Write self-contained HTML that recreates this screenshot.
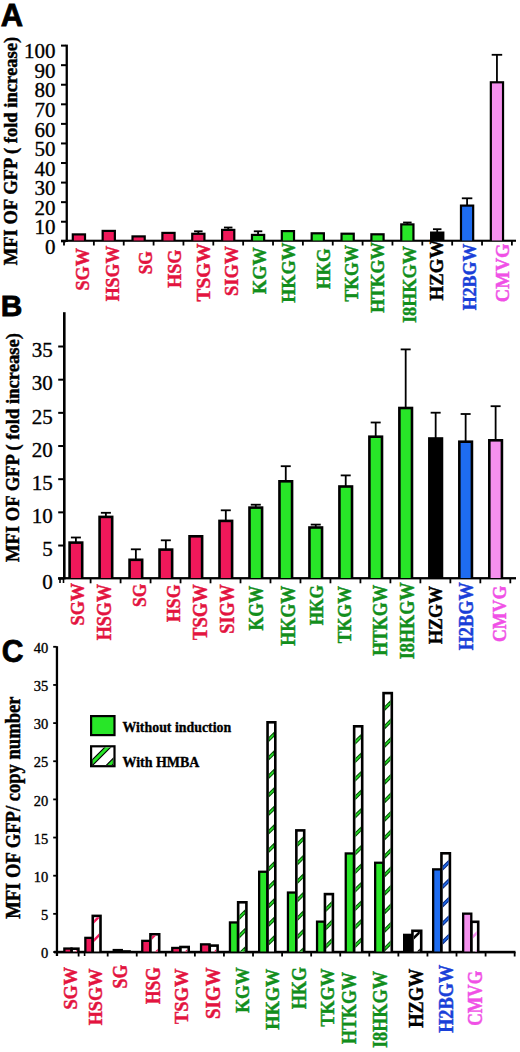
<!DOCTYPE html>
<html><head><meta charset="utf-8"><style>
html,body{margin:0;padding:0;background:#fff;}
svg{display:block;}
</style></head><body>
<svg width="520" height="1052" viewBox="0 0 520 1052">
<rect width="520" height="1052" fill="#fff"/>
<g font-family="Liberation Sans" font-weight="bold" stroke="#000" stroke-width="0.8">
<text transform="translate(0.75 25.75) scale(0.96 1)" font-size="32.2">A</text>
<text transform="translate(0.8 315.85) scale(0.99 1)" font-size="30.2">B</text>
<text transform="translate(1.7 661.6) scale(0.96 1)" font-size="31.3">C</text>
</g>
<g font-family="Liberation Serif">
<text transform="translate(17.31 265.37) rotate(-90) scale(0.9583 1)" font-size="19.40" fill="#000" stroke="#000" stroke-width="0.45" font-weight="bold">MFI OF GFP ( fold increase)</text>
<text transform="translate(18.71 561.97) rotate(-90) scale(0.9519 1)" font-size="19.55" fill="#000" stroke="#000" stroke-width="0.45" font-weight="bold">MFI OF GFP ( fold increase)</text>
<text transform="translate(19.5 918.77) rotate(-90) scale(0.9295 1)" font-size="20.00" fill="#000" stroke="#000" stroke-width="0.45" font-weight="bold">MFI OF GFP/ copy number</text>
<rect x="65.6" y="44.6" width="2.3" height="197.4" fill="#000"/>
<rect x="61" y="240.3" width="5" height="2" fill="#000"/>
<text x="55.44" y="254.05" font-size="21" text-anchor="end" fill="#000" stroke="#000" stroke-width="0.35">0</text>
<rect x="61" y="220.73" width="5" height="2" fill="#000"/>
<text x="55.44" y="234.48" font-size="21" text-anchor="end" fill="#000" stroke="#000" stroke-width="0.35">10</text>
<rect x="61" y="201.16" width="5" height="2" fill="#000"/>
<text x="55.44" y="214.91" font-size="21" text-anchor="end" fill="#000" stroke="#000" stroke-width="0.35">20</text>
<rect x="61" y="181.59" width="5" height="2" fill="#000"/>
<text x="55.44" y="195.34" font-size="21" text-anchor="end" fill="#000" stroke="#000" stroke-width="0.35">30</text>
<rect x="61" y="162.02" width="5" height="2" fill="#000"/>
<text x="55.44" y="175.77" font-size="21" text-anchor="end" fill="#000" stroke="#000" stroke-width="0.35">40</text>
<rect x="61" y="142.45" width="5" height="2" fill="#000"/>
<text x="55.44" y="156.2" font-size="21" text-anchor="end" fill="#000" stroke="#000" stroke-width="0.35">50</text>
<rect x="61" y="122.88" width="5" height="2" fill="#000"/>
<text x="55.44" y="136.63" font-size="21" text-anchor="end" fill="#000" stroke="#000" stroke-width="0.35">60</text>
<rect x="61" y="103.31" width="5" height="2" fill="#000"/>
<text x="55.44" y="117.06" font-size="21" text-anchor="end" fill="#000" stroke="#000" stroke-width="0.35">70</text>
<rect x="61" y="83.74" width="5" height="2" fill="#000"/>
<text x="55.44" y="97.49" font-size="21" text-anchor="end" fill="#000" stroke="#000" stroke-width="0.35">80</text>
<rect x="61" y="64.17" width="5" height="2" fill="#000"/>
<text x="55.44" y="77.92" font-size="21" text-anchor="end" fill="#000" stroke="#000" stroke-width="0.35">90</text>
<rect x="61" y="44.6" width="5" height="2" fill="#000"/>
<text x="55.44" y="58.35" font-size="21" text-anchor="end" fill="#000" stroke="#000" stroke-width="0.35">100</text>
<rect x="61" y="239.7" width="455" height="2.1" fill="#000"/>
<rect x="63.1" y="240" width="1.8" height="5.5" fill="#000"/>
<rect x="92.96" y="240" width="1.8" height="5.5" fill="#000"/>
<rect x="122.82" y="240" width="1.8" height="5.5" fill="#000"/>
<rect x="152.68" y="240" width="1.8" height="5.5" fill="#000"/>
<rect x="182.54" y="240" width="1.8" height="5.5" fill="#000"/>
<rect x="212.4" y="240" width="1.8" height="5.5" fill="#000"/>
<rect x="242.26" y="240" width="1.8" height="5.5" fill="#000"/>
<rect x="272.12" y="240" width="1.8" height="5.5" fill="#000"/>
<rect x="301.98" y="240" width="1.8" height="5.5" fill="#000"/>
<rect x="331.84" y="240" width="1.8" height="5.5" fill="#000"/>
<rect x="361.7" y="240" width="1.8" height="5.5" fill="#000"/>
<rect x="391.56" y="240" width="1.8" height="5.5" fill="#000"/>
<rect x="421.42" y="240" width="1.8" height="5.5" fill="#000"/>
<rect x="451.28" y="240" width="1.8" height="5.5" fill="#000"/>
<rect x="481.14" y="240" width="1.8" height="5.5" fill="#000"/>
<rect x="511" y="240" width="1.8" height="5.5" fill="#000"/>
<rect x="71.7" y="233.3" width="14.4" height="7.2" fill="#000"/>
<rect x="73.9" y="235.5" width="10" height="5" fill="#f0185a"/>
<rect x="101.56" y="229.8" width="14.4" height="10.7" fill="#000"/>
<rect x="103.76" y="232" width="10" height="8.5" fill="#f0185a"/>
<rect x="131.42" y="235.3" width="14.4" height="5.2" fill="#000"/>
<rect x="133.62" y="237.5" width="10" height="3" fill="#f0185a"/>
<rect x="161.28" y="231.8" width="14.4" height="8.7" fill="#000"/>
<rect x="163.48" y="234" width="10" height="6.5" fill="#f0185a"/>
<rect x="197.44" y="231.3" width="1.8" height="2.4" fill="#000"/>
<rect x="194.09" y="230.4" width="8.5" height="1.8" fill="#000"/>
<rect x="191.14" y="232.7" width="14.4" height="7.8" fill="#000"/>
<rect x="193.34" y="234.9" width="10" height="5.6" fill="#f0185a"/>
<rect x="227.3" y="227.5" width="1.8" height="2.3" fill="#000"/>
<rect x="223.95" y="226.6" width="8.5" height="1.8" fill="#000"/>
<rect x="221" y="228.8" width="14.4" height="11.7" fill="#000"/>
<rect x="223.2" y="231" width="10" height="9.5" fill="#f0185a"/>
<rect x="257.16" y="231.3" width="1.8" height="3.5" fill="#000"/>
<rect x="253.81" y="230.4" width="8.5" height="1.8" fill="#000"/>
<rect x="250.86" y="233.8" width="14.4" height="6.7" fill="#000"/>
<rect x="253.06" y="236" width="10" height="4.5" fill="#28e628"/>
<rect x="280.72" y="230" width="14.4" height="10.5" fill="#000"/>
<rect x="282.92" y="232.2" width="10" height="8.3" fill="#28e628"/>
<rect x="310.58" y="232.2" width="14.4" height="8.3" fill="#000"/>
<rect x="312.78" y="234.4" width="10" height="6.1" fill="#28e628"/>
<rect x="340.44" y="232.6" width="14.4" height="7.9" fill="#000"/>
<rect x="342.64" y="234.8" width="10" height="5.7" fill="#28e628"/>
<rect x="370.3" y="233.2" width="14.4" height="7.3" fill="#000"/>
<rect x="372.5" y="235.4" width="10" height="5.1" fill="#28e628"/>
<rect x="406.46" y="222.5" width="1.8" height="1.8" fill="#000"/>
<rect x="403.11" y="221.6" width="8.5" height="1.8" fill="#000"/>
<rect x="400.16" y="223.3" width="14.4" height="17.2" fill="#000"/>
<rect x="402.36" y="225.5" width="10" height="15" fill="#28e628"/>
<rect x="436.32" y="229.2" width="1.8" height="3.3" fill="#000"/>
<rect x="432.97" y="228.3" width="8.5" height="1.8" fill="#000"/>
<rect x="430.02" y="231.5" width="14.4" height="9" fill="#000"/>
<rect x="432.22" y="233.7" width="10" height="6.8" fill="#000000"/>
<rect x="466.18" y="198.3" width="1.8" height="7.2" fill="#000"/>
<rect x="461.83" y="197.4" width="10.5" height="1.8" fill="#000"/>
<rect x="459.88" y="204.5" width="14.4" height="36" fill="#000"/>
<rect x="462.08" y="206.7" width="10" height="33.8" fill="#1e6cf0"/>
<rect x="496.04" y="54.8" width="1.8" height="27.4" fill="#000"/>
<rect x="491.69" y="53.9" width="10.5" height="1.8" fill="#000"/>
<rect x="489.74" y="81.2" width="14.4" height="159.3" fill="#000"/>
<rect x="491.94" y="83.4" width="10" height="157.1" fill="#f590ee"/>
<text transform="translate(89.42 290.51) rotate(-90) scale(0.9546 1)" font-size="19.10" fill="#e3143f" stroke="#e3143f" stroke-width="0.45" font-weight="bold">SGW</text>
<text transform="translate(118.61 301.36) rotate(-90) scale(0.9237 1)" font-size="19.40" fill="#e3143f" stroke="#e3143f" stroke-width="0.45" font-weight="bold">HSGW</text>
<text transform="translate(151.92 274.37) rotate(-90) scale(0.9211 1)" font-size="18.96" fill="#e3143f" stroke="#e3143f" stroke-width="0.45" font-weight="bold">SG</text>
<text transform="translate(180.82 287.86) rotate(-90) scale(0.9557 1)" font-size="18.96" fill="#e3143f" stroke="#e3143f" stroke-width="0.45" font-weight="bold">HSG</text>
<text transform="translate(209.82 301.39) rotate(-90) scale(1.0195 1)" font-size="18.96" fill="#e3143f" stroke="#e3143f" stroke-width="0.45" font-weight="bold">TSGW</text>
<text transform="translate(237.61 295.92) rotate(-90) scale(0.9494 1)" font-size="19.40" fill="#e3143f" stroke="#e3143f" stroke-width="0.45" font-weight="bold">SIGW</text>
<text transform="translate(265.92 294.07) rotate(-90) scale(0.9749 1)" font-size="18.81" fill="#128e1c" stroke="#128e1c" stroke-width="0.45" font-weight="bold">KGW</text>
<text transform="translate(294.82 302.86) rotate(-90) scale(0.9592 1)" font-size="18.96" fill="#128e1c" stroke="#128e1c" stroke-width="0.45" font-weight="bold">HKGW</text>
<text transform="translate(329.92 289.05) rotate(-90) scale(0.9143 1)" font-size="19.10" fill="#128e1c" stroke="#128e1c" stroke-width="0.45" font-weight="bold">HKG</text>
<text transform="translate(358.11 301.55) rotate(-90) scale(0.9080 1)" font-size="19.40" fill="#128e1c" stroke="#128e1c" stroke-width="0.45" font-weight="bold">TKGW</text>
<text transform="translate(384.32 312.85) rotate(-90) scale(0.9326 1)" font-size="18.96" fill="#128e1c" stroke="#128e1c" stroke-width="0.45" font-weight="bold">HTKGW</text>
<text transform="translate(416.11 323.05) rotate(-90) scale(0.9265 1)" font-size="19.70" fill="#128e1c" stroke="#128e1c" stroke-width="0.45" font-weight="bold">I8HKGW</text>
<text transform="translate(442.61 300.38) rotate(-90) scale(0.9694 1)" font-size="19.40" fill="#000000" stroke="#000000" stroke-width="0.45" font-weight="bold">HZGW</text>
<text transform="translate(476.12 310.36) rotate(-90) scale(0.9391 1)" font-size="19.10" fill="#1a3fd8" stroke="#1a3fd8" stroke-width="0.45" font-weight="bold">H2BGW</text>
<text transform="translate(508.62 302.13) rotate(-90) scale(0.9766 1)" font-size="18.96" fill="#f050e6" stroke="#f050e6" stroke-width="0.45" font-weight="bold">CMVG</text>
<rect x="63" y="312.2" width="2.6" height="267.2" fill="#000"/>
<rect x="58.2" y="577.7" width="5.3" height="2" fill="#000"/>
<text x="52.74" y="589.35" font-size="21" text-anchor="end" fill="#000" stroke="#000" stroke-width="0.35">0</text>
<rect x="58.2" y="544.53" width="5.3" height="2" fill="#000"/>
<text x="52.74" y="556.18" font-size="21" text-anchor="end" fill="#000" stroke="#000" stroke-width="0.35">5</text>
<rect x="58.2" y="511.36" width="5.3" height="2" fill="#000"/>
<text x="52.74" y="523.01" font-size="21" text-anchor="end" fill="#000" stroke="#000" stroke-width="0.35">10</text>
<rect x="58.2" y="478.19" width="5.3" height="2" fill="#000"/>
<text x="52.74" y="489.84" font-size="21" text-anchor="end" fill="#000" stroke="#000" stroke-width="0.35">15</text>
<rect x="58.2" y="445.02" width="5.3" height="2" fill="#000"/>
<text x="52.74" y="456.67" font-size="21" text-anchor="end" fill="#000" stroke="#000" stroke-width="0.35">20</text>
<rect x="58.2" y="411.85" width="5.3" height="2" fill="#000"/>
<text x="52.74" y="423.5" font-size="21" text-anchor="end" fill="#000" stroke="#000" stroke-width="0.35">25</text>
<rect x="58.2" y="378.68" width="5.3" height="2" fill="#000"/>
<text x="52.74" y="390.33" font-size="21" text-anchor="end" fill="#000" stroke="#000" stroke-width="0.35">30</text>
<rect x="58.2" y="345.51" width="5.3" height="2" fill="#000"/>
<text x="52.74" y="357.16" font-size="21" text-anchor="end" fill="#000" stroke="#000" stroke-width="0.35">35</text>
<rect x="58.1" y="577.1" width="457.9" height="2.3" fill="#000"/>
<rect x="59.2" y="579" width="1.6" height="4" fill="#000"/>
<rect x="62.7" y="579" width="1.6" height="4" fill="#000"/>
<rect x="89.7" y="578" width="1.8" height="5.3" fill="#000"/>
<rect x="119.68" y="578" width="1.8" height="5.3" fill="#000"/>
<rect x="149.66" y="578" width="1.8" height="5.3" fill="#000"/>
<rect x="179.64" y="578" width="1.8" height="5.3" fill="#000"/>
<rect x="209.62" y="578" width="1.8" height="5.3" fill="#000"/>
<rect x="239.6" y="578" width="1.8" height="5.3" fill="#000"/>
<rect x="269.58" y="578" width="1.8" height="5.3" fill="#000"/>
<rect x="299.56" y="578" width="1.8" height="5.3" fill="#000"/>
<rect x="329.54" y="578" width="1.8" height="5.3" fill="#000"/>
<rect x="359.52" y="578" width="1.8" height="5.3" fill="#000"/>
<rect x="389.5" y="578" width="1.8" height="5.3" fill="#000"/>
<rect x="419.48" y="578" width="1.8" height="5.3" fill="#000"/>
<rect x="449.46" y="578" width="1.8" height="5.3" fill="#000"/>
<rect x="479.44" y="578" width="1.8" height="5.3" fill="#000"/>
<rect x="509.42" y="578" width="1.8" height="5.3" fill="#000"/>
<rect x="75" y="537.5" width="1.8" height="4.8" fill="#000"/>
<rect x="70.9" y="536.6" width="10" height="1.8" fill="#000"/>
<rect x="68.3" y="541.3" width="15.2" height="36.7" fill="#000"/>
<rect x="70.9" y="543.9" width="10" height="34.1" fill="#f0185a"/>
<rect x="104.98" y="512.8" width="1.8" height="3.8" fill="#000"/>
<rect x="100.88" y="511.9" width="10" height="1.8" fill="#000"/>
<rect x="98.28" y="515.6" width="15.2" height="62.4" fill="#000"/>
<rect x="100.88" y="518.2" width="10" height="59.8" fill="#f0185a"/>
<rect x="134.96" y="549.3" width="1.8" height="10.2" fill="#000"/>
<rect x="130.86" y="548.4" width="10" height="1.8" fill="#000"/>
<rect x="128.26" y="558.5" width="15.2" height="19.5" fill="#000"/>
<rect x="130.86" y="561.1" width="10" height="16.9" fill="#f0185a"/>
<rect x="164.94" y="540.3" width="1.8" height="9" fill="#000"/>
<rect x="160.84" y="539.4" width="10" height="1.8" fill="#000"/>
<rect x="158.24" y="548.3" width="15.2" height="29.7" fill="#000"/>
<rect x="160.84" y="550.9" width="10" height="27.1" fill="#f0185a"/>
<rect x="188.22" y="535" width="15.2" height="43" fill="#000"/>
<rect x="190.82" y="537.6" width="10" height="40.4" fill="#f0185a"/>
<rect x="224.9" y="510.3" width="1.8" height="10.3" fill="#000"/>
<rect x="220.8" y="509.4" width="10" height="1.8" fill="#000"/>
<rect x="218.2" y="519.6" width="15.2" height="58.4" fill="#000"/>
<rect x="220.8" y="522.2" width="10" height="55.8" fill="#f0185a"/>
<rect x="254.88" y="504.7" width="1.8" height="2.6" fill="#000"/>
<rect x="250.78" y="503.8" width="10" height="1.8" fill="#000"/>
<rect x="248.18" y="506.3" width="15.2" height="71.7" fill="#000"/>
<rect x="250.78" y="508.9" width="10" height="69.1" fill="#28e628"/>
<rect x="284.86" y="466.2" width="1.8" height="14.8" fill="#000"/>
<rect x="280.76" y="465.3" width="10" height="1.8" fill="#000"/>
<rect x="278.16" y="480" width="15.2" height="98" fill="#000"/>
<rect x="280.76" y="482.6" width="10" height="95.4" fill="#28e628"/>
<rect x="314.84" y="524.6" width="1.8" height="2.6" fill="#000"/>
<rect x="310.74" y="523.7" width="10" height="1.8" fill="#000"/>
<rect x="308.14" y="526.2" width="15.2" height="51.8" fill="#000"/>
<rect x="310.74" y="528.8" width="10" height="49.2" fill="#28e628"/>
<rect x="344.82" y="475.4" width="1.8" height="10.8" fill="#000"/>
<rect x="340.72" y="474.5" width="10" height="1.8" fill="#000"/>
<rect x="338.12" y="485.2" width="15.2" height="92.8" fill="#000"/>
<rect x="340.72" y="487.8" width="10" height="90.2" fill="#28e628"/>
<rect x="374.8" y="422.5" width="1.8" height="13.9" fill="#000"/>
<rect x="370.7" y="421.6" width="10" height="1.8" fill="#000"/>
<rect x="368.1" y="435.4" width="15.2" height="142.6" fill="#000"/>
<rect x="370.7" y="438" width="10" height="140" fill="#28e628"/>
<rect x="404.78" y="349.4" width="1.8" height="58.3" fill="#000"/>
<rect x="400.68" y="348.5" width="10" height="1.8" fill="#000"/>
<rect x="398.08" y="406.7" width="15.2" height="171.3" fill="#000"/>
<rect x="400.68" y="409.3" width="10" height="168.7" fill="#28e628"/>
<rect x="434.76" y="412.7" width="1.8" height="25.5" fill="#000"/>
<rect x="430.66" y="411.8" width="10" height="1.8" fill="#000"/>
<rect x="428.06" y="437.2" width="15.2" height="140.8" fill="#000"/>
<rect x="430.66" y="439.8" width="10" height="138.2" fill="#000000"/>
<rect x="464.74" y="414" width="1.8" height="27.4" fill="#000"/>
<rect x="460.64" y="413.1" width="10" height="1.8" fill="#000"/>
<rect x="458.04" y="440.4" width="15.2" height="137.6" fill="#000"/>
<rect x="460.64" y="443" width="10" height="135" fill="#1e6cf0"/>
<rect x="494.72" y="406.2" width="1.8" height="33.8" fill="#000"/>
<rect x="490.62" y="405.3" width="10" height="1.8" fill="#000"/>
<rect x="488.02" y="439" width="15.2" height="139" fill="#000"/>
<rect x="490.62" y="441.6" width="10" height="136.4" fill="#f590ee"/>
<text transform="translate(84.01 625.51) rotate(-90) scale(0.9422 1)" font-size="19.40" fill="#e3143f" stroke="#e3143f" stroke-width="0.45" font-weight="bold">SGW</text>
<text transform="translate(111.49 640.36) rotate(-90) scale(0.8733 1)" font-size="20.75" fill="#e3143f" stroke="#e3143f" stroke-width="0.45" font-weight="bold">HSGW</text>
<text transform="translate(146.11 607.07) rotate(-90) scale(0.8930 1)" font-size="19.55" fill="#e3143f" stroke="#e3143f" stroke-width="0.45" font-weight="bold">SG</text>
<text transform="translate(179.6 621.96) rotate(-90) scale(0.8956 1)" font-size="19.85" fill="#e3143f" stroke="#e3143f" stroke-width="0.45" font-weight="bold">HSG</text>
<text transform="translate(206.7 639.97) rotate(-90) scale(0.9324 1)" font-size="20.00" fill="#e3143f" stroke="#e3143f" stroke-width="0.45" font-weight="bold">TSGW</text>
<text transform="translate(233.6 633.81) rotate(-90) scale(0.9117 1)" font-size="20.00" fill="#e3143f" stroke="#e3143f" stroke-width="0.45" font-weight="bold">SIGW</text>
<text transform="translate(262.6 630.55) rotate(-90) scale(0.8744 1)" font-size="20.15" fill="#128e1c" stroke="#128e1c" stroke-width="0.45" font-weight="bold">KGW</text>
<text transform="translate(295.09 645.86) rotate(-90) scale(0.8783 1)" font-size="20.60" fill="#128e1c" stroke="#128e1c" stroke-width="0.45" font-weight="bold">HKGW</text>
<text transform="translate(322.61 625.34) rotate(-90) scale(0.8890 1)" font-size="19.40" fill="#128e1c" stroke="#128e1c" stroke-width="0.45" font-weight="bold">HKG</text>
<text transform="translate(351.11 643.36) rotate(-90) scale(0.9177 1)" font-size="19.40" fill="#128e1c" stroke="#128e1c" stroke-width="0.45" font-weight="bold">TKGW</text>
<text transform="translate(386.8 655.86) rotate(-90) scale(0.8836 1)" font-size="20.15" fill="#128e1c" stroke="#128e1c" stroke-width="0.45" font-weight="bold">HTKGW</text>
<text transform="translate(414.4 659.25) rotate(-90) scale(0.9047 1)" font-size="20.15" fill="#128e1c" stroke="#128e1c" stroke-width="0.45" font-weight="bold">I8HKGW</text>
<text transform="translate(442.32 644.06) rotate(-90) scale(0.9509 1)" font-size="18.96" fill="#000000" stroke="#000000" stroke-width="0.45" font-weight="bold">HZGW</text>
<text transform="translate(473.1 650.37) rotate(-90) scale(0.9079 1)" font-size="20.15" fill="#1a3fd8" stroke="#1a3fd8" stroke-width="0.45" font-weight="bold">H2BGW</text>
<text transform="translate(505.92 642.09) rotate(-90) scale(0.9465 1)" font-size="18.81" fill="#f050e6" stroke="#f050e6" stroke-width="0.45" font-weight="bold">CMVG</text>
</g>
<g font-family="Liberation Serif">
<rect x="55.8" y="646.2" width="2.3" height="309.8" fill="#000"/>
<rect x="83.8" y="952" width="1.6" height="4" fill="#000"/>
<rect x="53.2" y="951.1" width="3.3" height="1.8" fill="#000"/>
<text x="48.18" y="958.12" font-size="14.5" text-anchor="end" fill="#000" stroke="#000" stroke-width="0.35">0</text>
<rect x="53.2" y="912.95" width="3.3" height="1.8" fill="#000"/>
<text x="48.18" y="919.98" font-size="14.5" text-anchor="end" fill="#000" stroke="#000" stroke-width="0.35">5</text>
<rect x="53.2" y="874.8" width="3.3" height="1.8" fill="#000"/>
<text x="48.18" y="881.83" font-size="14.5" text-anchor="end" fill="#000" stroke="#000" stroke-width="0.35">10</text>
<rect x="53.2" y="836.65" width="3.3" height="1.8" fill="#000"/>
<text x="48.18" y="843.67" font-size="14.5" text-anchor="end" fill="#000" stroke="#000" stroke-width="0.35">15</text>
<rect x="53.2" y="798.5" width="3.3" height="1.8" fill="#000"/>
<text x="48.18" y="805.52" font-size="14.5" text-anchor="end" fill="#000" stroke="#000" stroke-width="0.35">20</text>
<rect x="53.2" y="760.35" width="3.3" height="1.8" fill="#000"/>
<text x="48.18" y="767.38" font-size="14.5" text-anchor="end" fill="#000" stroke="#000" stroke-width="0.35">25</text>
<rect x="53.2" y="722.2" width="3.3" height="1.8" fill="#000"/>
<text x="48.18" y="729.23" font-size="14.5" text-anchor="end" fill="#000" stroke="#000" stroke-width="0.35">30</text>
<rect x="53.2" y="684.05" width="3.3" height="1.8" fill="#000"/>
<text x="48.18" y="691.08" font-size="14.5" text-anchor="end" fill="#000" stroke="#000" stroke-width="0.35">35</text>
<rect x="53.2" y="645.9" width="3.3" height="1.8" fill="#000"/>
<text x="48.18" y="652.92" font-size="14.5" text-anchor="end" fill="#000" stroke="#000" stroke-width="0.35">40</text>
<rect x="54" y="950.8" width="461.5" height="2.6" fill="#000"/>
<rect x="77.7" y="952" width="1.8" height="4.5" fill="#000"/>
<rect x="106.77" y="952" width="1.8" height="4.5" fill="#000"/>
<rect x="135.84" y="952" width="1.8" height="4.5" fill="#000"/>
<rect x="164.91" y="952" width="1.8" height="4.5" fill="#000"/>
<rect x="193.98" y="952" width="1.8" height="4.5" fill="#000"/>
<rect x="223.05" y="952" width="1.8" height="4.5" fill="#000"/>
<rect x="252.12" y="952" width="1.8" height="4.5" fill="#000"/>
<rect x="281.19" y="952" width="1.8" height="4.5" fill="#000"/>
<rect x="310.26" y="952" width="1.8" height="4.5" fill="#000"/>
<rect x="339.33" y="952" width="1.8" height="4.5" fill="#000"/>
<rect x="368.4" y="952" width="1.8" height="4.5" fill="#000"/>
<rect x="397.47" y="952" width="1.8" height="4.5" fill="#000"/>
<rect x="426.54" y="952" width="1.8" height="4.5" fill="#000"/>
<rect x="455.61" y="952" width="1.8" height="4.5" fill="#000"/>
<rect x="484.68" y="952" width="1.8" height="4.5" fill="#000"/>
<rect x="513.75" y="952" width="1.8" height="4.5" fill="#000"/>
<rect x="63.2" y="947.4" width="9.45" height="4.1" fill="#000"/>
<rect x="65.5" y="949.7" width="4.85" height="1.8" fill="#f0185a"/>
<rect x="70.35" y="947.4" width="9.35" height="4.1" fill="#000"/>
<rect x="72.95" y="950" width="4.15" height="1.5" fill="#fff"/>
<clipPath id="c0"><rect x="72.95" y="950" width="4.15" height="1.5"/></clipPath>
<path clip-path="url(#c0)" fill="#f0185a" d="M72.95 916.78L77.1 912.63L77.1 916.23L72.95 920.38ZM72.95 935.28L77.1 931.13L77.1 934.73L72.95 938.88ZM72.95 953.78L77.1 949.63L77.1 953.23L72.95 957.38ZM72.95 972.28L77.1 968.13L77.1 971.73L72.95 975.88ZM72.95 990.78L77.1 986.63L77.1 990.23L72.95 994.38Z"/>
<rect x="84.2" y="936.7" width="9.55" height="14.8" fill="#000"/>
<rect x="86.5" y="939" width="4.95" height="12.5" fill="#f0185a"/>
<rect x="91.45" y="914.6" width="10.35" height="36.9" fill="#000"/>
<rect x="94.05" y="917.2" width="5.15" height="34.3" fill="#fff"/>
<clipPath id="c1"><rect x="94.05" y="917.2" width="5.15" height="34.3"/></clipPath>
<path clip-path="url(#c1)" fill="#f0185a" d="M94.05 882.88L99.2 877.73L99.2 881.32L94.05 886.47ZM94.05 901.38L99.2 896.23L99.2 899.82L94.05 904.97ZM94.05 919.88L99.2 914.73L99.2 918.32L94.05 923.47ZM94.05 938.38L99.2 933.23L99.2 936.82L94.05 941.97ZM94.05 956.88L99.2 951.73L99.2 955.32L94.05 960.47ZM94.05 975.38L99.2 970.23L99.2 973.82L94.05 978.97Z"/>
<rect x="112.6" y="948.9" width="10.35" height="2.6" fill="#000"/>
<rect x="120.65" y="950.2" width="10.25" height="1.3" fill="#000"/>
<rect x="141.1" y="939.7" width="10.35" height="11.8" fill="#000"/>
<rect x="143.4" y="942" width="5.75" height="9.5" fill="#f0185a"/>
<rect x="149.15" y="933" width="11.35" height="18.5" fill="#000"/>
<rect x="151.75" y="935.6" width="6.15" height="15.9" fill="#fff"/>
<clipPath id="c2"><rect x="151.75" y="935.6" width="6.15" height="15.9"/></clipPath>
<path clip-path="url(#c2)" fill="#f0185a" d="M151.75 899.28L157.9 893.13L157.9 896.73L151.75 902.88ZM151.75 917.78L157.9 911.63L157.9 915.23L151.75 921.38ZM151.75 936.28L157.9 930.13L157.9 933.73L151.75 939.88ZM151.75 954.78L157.9 948.63L157.9 952.23L151.75 958.38ZM151.75 973.28L157.9 967.13L157.9 970.73L151.75 976.88ZM151.75 991.78L157.9 985.63L157.9 989.23L151.75 995.38Z"/>
<rect x="171.1" y="946.8" width="10.35" height="4.7" fill="#000"/>
<rect x="173.4" y="949.1" width="5.75" height="2.4" fill="#f0185a"/>
<rect x="179.15" y="945.7" width="10.85" height="5.8" fill="#000"/>
<rect x="181.75" y="948.3" width="5.65" height="3.2" fill="#fff"/>
<clipPath id="c3"><rect x="181.75" y="948.3" width="5.65" height="3.2"/></clipPath>
<path clip-path="url(#c3)" fill="#f0185a" d="M181.75 917.53L187.4 911.88L187.4 915.48L181.75 921.12ZM181.75 936.03L187.4 930.38L187.4 933.98L181.75 939.62ZM181.75 954.53L187.4 948.88L187.4 952.48L181.75 958.12ZM181.75 973.03L187.4 967.38L187.4 970.98L181.75 976.62ZM181.75 991.53L187.4 985.88L187.4 989.48L181.75 995.12Z"/>
<rect x="199.9" y="943.2" width="10.85" height="8.3" fill="#000"/>
<rect x="202.2" y="945.5" width="6.25" height="6" fill="#f0185a"/>
<rect x="208.45" y="944.3" width="10.45" height="7.2" fill="#000"/>
<rect x="211.05" y="946.9" width="5.25" height="4.6" fill="#fff"/>
<clipPath id="c4"><rect x="211.05" y="946.9" width="5.25" height="4.6"/></clipPath>
<path clip-path="url(#c4)" fill="#f0185a" d="M211.05 917.33L216.3 912.08L216.3 915.67L211.05 920.92ZM211.05 935.83L216.3 930.58L216.3 934.17L211.05 939.42ZM211.05 954.33L216.3 949.08L216.3 952.67L211.05 957.92ZM211.05 972.83L216.3 967.58L216.3 971.17L211.05 976.42ZM211.05 991.33L216.3 986.08L216.3 989.67L211.05 994.92Z"/>
<rect x="228.8" y="921.3" width="10.35" height="30.2" fill="#000"/>
<rect x="231.1" y="923.6" width="5.75" height="27.9" fill="#28e628"/>
<rect x="236.85" y="901" width="10.85" height="50.5" fill="#000"/>
<rect x="239.45" y="903.6" width="5.65" height="47.9" fill="#fff"/>
<clipPath id="c5"><rect x="239.45" y="903.6" width="5.65" height="47.9"/></clipPath>
<path clip-path="url(#c5)" fill="#28e628" stroke="#075207" stroke-width="1.1" d="M239.45 878.62L245.1 872.98L245.1 876.57L239.45 882.22ZM239.45 897.12L245.1 891.48L245.1 895.07L239.45 900.72ZM239.45 915.62L245.1 909.98L245.1 913.57L239.45 919.22ZM239.45 934.12L245.1 928.48L245.1 932.07L239.45 937.72ZM239.45 952.62L245.1 946.98L245.1 950.57L239.45 956.22ZM239.45 971.12L245.1 965.48L245.1 969.07L239.45 974.72ZM239.45 989.62L245.1 983.98L245.1 987.57L239.45 993.22Z"/>
<rect x="258" y="870.6" width="10.55" height="80.9" fill="#000"/>
<rect x="260.3" y="872.9" width="5.95" height="78.6" fill="#28e628"/>
<rect x="266.25" y="721" width="10.35" height="230.5" fill="#000"/>
<rect x="268.85" y="723.6" width="5.15" height="227.9" fill="#fff"/>
<clipPath id="c6"><rect x="268.85" y="723.6" width="5.15" height="227.9"/></clipPath>
<path clip-path="url(#c6)" fill="#28e628" stroke="#075207" stroke-width="1.1" d="M268.85 700.68L274 695.53L274 699.12L268.85 704.27ZM268.85 719.18L274 714.03L274 717.62L268.85 722.77ZM268.85 737.68L274 732.53L274 736.12L268.85 741.27ZM268.85 756.18L274 751.03L274 754.62L268.85 759.77ZM268.85 774.68L274 769.53L274 773.12L268.85 778.27ZM268.85 793.18L274 788.03L274 791.62L268.85 796.77ZM268.85 811.68L274 806.53L274 810.12L268.85 815.27ZM268.85 830.18L274 825.03L274 828.62L268.85 833.77ZM268.85 848.68L274 843.53L274 847.12L268.85 852.27ZM268.85 867.18L274 862.03L274 865.62L268.85 870.77ZM268.85 885.68L274 880.53L274 884.12L268.85 889.27ZM268.85 904.18L274 899.03L274 902.62L268.85 907.77ZM268.85 922.68L274 917.53L274 921.12L268.85 926.27ZM268.85 941.18L274 936.03L274 939.62L268.85 944.77ZM268.85 959.68L274 954.53L274 958.12L268.85 963.27ZM268.85 978.18L274 973.03L274 976.62L268.85 981.77Z"/>
<rect x="286.8" y="891.4" width="10.55" height="60.1" fill="#000"/>
<rect x="289.1" y="893.7" width="5.95" height="57.8" fill="#28e628"/>
<rect x="295.05" y="829.1" width="10.45" height="122.4" fill="#000"/>
<rect x="297.65" y="831.7" width="5.25" height="119.8" fill="#fff"/>
<clipPath id="c7"><rect x="297.65" y="831.7" width="5.25" height="119.8"/></clipPath>
<path clip-path="url(#c7)" fill="#28e628" stroke="#075207" stroke-width="1.1" d="M297.65 805.53L302.9 800.28L302.9 803.88L297.65 809.12ZM297.65 824.03L302.9 818.78L302.9 822.38L297.65 827.62ZM297.65 842.53L302.9 837.28L302.9 840.88L297.65 846.12ZM297.65 861.03L302.9 855.78L302.9 859.38L297.65 864.62ZM297.65 879.53L302.9 874.28L302.9 877.88L297.65 883.12ZM297.65 898.03L302.9 892.78L302.9 896.38L297.65 901.62ZM297.65 916.53L302.9 911.28L302.9 914.88L297.65 920.12ZM297.65 935.03L302.9 929.78L302.9 933.38L297.65 938.62ZM297.65 953.53L302.9 948.28L302.9 951.88L297.65 957.12ZM297.65 972.03L302.9 966.78L302.9 970.38L297.65 975.62ZM297.65 990.53L302.9 985.28L302.9 988.88L297.65 994.12Z"/>
<rect x="315.9" y="920.5" width="10.05" height="31" fill="#000"/>
<rect x="318.2" y="922.8" width="5.45" height="28.7" fill="#28e628"/>
<rect x="323.65" y="892.8" width="10.55" height="58.7" fill="#000"/>
<rect x="326.25" y="895.4" width="5.35" height="56.1" fill="#fff"/>
<clipPath id="c8"><rect x="326.25" y="895.4" width="5.35" height="56.1"/></clipPath>
<path clip-path="url(#c8)" fill="#28e628" stroke="#075207" stroke-width="1.1" d="M326.25 870.38L331.6 865.03L331.6 868.62L326.25 873.97ZM326.25 888.88L331.6 883.53L331.6 887.12L326.25 892.47ZM326.25 907.38L331.6 902.03L331.6 905.62L326.25 910.97ZM326.25 925.88L331.6 920.53L331.6 924.12L326.25 929.47ZM326.25 944.38L331.6 939.03L331.6 942.62L326.25 947.97ZM326.25 962.88L331.6 957.53L331.6 961.12L326.25 966.47ZM326.25 981.38L331.6 976.03L331.6 979.62L326.25 984.97Z"/>
<rect x="344.6" y="852.3" width="10.55" height="99.2" fill="#000"/>
<rect x="346.9" y="854.6" width="5.95" height="96.9" fill="#28e628"/>
<rect x="352.85" y="725" width="10.65" height="226.5" fill="#000"/>
<rect x="355.45" y="727.6" width="5.45" height="223.9" fill="#fff"/>
<clipPath id="c9"><rect x="355.45" y="727.6" width="5.45" height="223.9"/></clipPath>
<path clip-path="url(#c9)" fill="#28e628" stroke="#075207" stroke-width="1.1" d="M355.45 703.23L360.9 697.78L360.9 701.38L355.45 706.82ZM355.45 721.73L360.9 716.28L360.9 719.88L355.45 725.32ZM355.45 740.23L360.9 734.78L360.9 738.38L355.45 743.82ZM355.45 758.73L360.9 753.28L360.9 756.88L355.45 762.32ZM355.45 777.23L360.9 771.78L360.9 775.38L355.45 780.82ZM355.45 795.73L360.9 790.28L360.9 793.88L355.45 799.32ZM355.45 814.23L360.9 808.78L360.9 812.38L355.45 817.82ZM355.45 832.73L360.9 827.28L360.9 830.88L355.45 836.32ZM355.45 851.23L360.9 845.78L360.9 849.38L355.45 854.82ZM355.45 869.73L360.9 864.28L360.9 867.88L355.45 873.32ZM355.45 888.23L360.9 882.78L360.9 886.38L355.45 891.82ZM355.45 906.73L360.9 901.28L360.9 904.88L355.45 910.32ZM355.45 925.23L360.9 919.78L360.9 923.38L355.45 928.82ZM355.45 943.73L360.9 938.28L360.9 941.88L355.45 947.32ZM355.45 962.23L360.9 956.78L360.9 960.38L355.45 965.82ZM355.45 980.73L360.9 975.28L360.9 978.88L355.45 984.32Z"/>
<rect x="374" y="861.6" width="10.55" height="89.9" fill="#000"/>
<rect x="376.3" y="863.9" width="5.95" height="87.6" fill="#28e628"/>
<rect x="382.25" y="691.8" width="10.85" height="259.7" fill="#000"/>
<rect x="384.85" y="694.4" width="5.65" height="257.1" fill="#fff"/>
<clipPath id="c10"><rect x="384.85" y="694.4" width="5.65" height="257.1"/></clipPath>
<path clip-path="url(#c10)" fill="#28e628" stroke="#075207" stroke-width="1.1" d="M384.85 669.53L390.5 663.88L390.5 667.48L384.85 673.12ZM384.85 688.03L390.5 682.38L390.5 685.98L384.85 691.62ZM384.85 706.53L390.5 700.88L390.5 704.48L384.85 710.12ZM384.85 725.03L390.5 719.38L390.5 722.98L384.85 728.62ZM384.85 743.53L390.5 737.88L390.5 741.48L384.85 747.12ZM384.85 762.03L390.5 756.38L390.5 759.98L384.85 765.62ZM384.85 780.53L390.5 774.88L390.5 778.48L384.85 784.12ZM384.85 799.03L390.5 793.38L390.5 796.98L384.85 802.62ZM384.85 817.53L390.5 811.88L390.5 815.48L384.85 821.12ZM384.85 836.03L390.5 830.38L390.5 833.98L384.85 839.62ZM384.85 854.53L390.5 848.88L390.5 852.48L384.85 858.12ZM384.85 873.03L390.5 867.38L390.5 870.98L384.85 876.62ZM384.85 891.53L390.5 885.88L390.5 889.48L384.85 895.12ZM384.85 910.03L390.5 904.38L390.5 907.98L384.85 913.62ZM384.85 928.53L390.5 922.88L390.5 926.48L384.85 932.12ZM384.85 947.03L390.5 941.38L390.5 944.98L384.85 950.62ZM384.85 965.53L390.5 959.88L390.5 963.48L384.85 969.12ZM384.85 984.03L390.5 978.38L390.5 981.98L384.85 987.62Z"/>
<rect x="403" y="933.7" width="10.45" height="17.8" fill="#000"/>
<rect x="405.3" y="936" width="5.85" height="15.5" fill="#000000"/>
<rect x="411.15" y="929.5" width="11.35" height="22" fill="#000"/>
<rect x="413.75" y="932.1" width="6.15" height="19.4" fill="#fff"/>
<clipPath id="c11"><rect x="413.75" y="932.1" width="6.15" height="19.4"/></clipPath>
<path clip-path="url(#c11)" fill="#000000" d="M413.75 899.27L419.9 893.12L419.9 896.72L413.75 902.87ZM413.75 917.77L419.9 911.62L419.9 915.22L413.75 921.37ZM413.75 936.27L419.9 930.12L419.9 933.72L413.75 939.87ZM413.75 954.77L419.9 948.62L419.9 952.22L413.75 958.37ZM413.75 973.27L419.9 967.12L419.9 970.72L413.75 976.87ZM413.75 991.77L419.9 985.62L419.9 989.22L413.75 995.37Z"/>
<rect x="432" y="868.2" width="10.45" height="83.3" fill="#000"/>
<rect x="434.3" y="870.5" width="5.85" height="81" fill="#1e6cf0"/>
<rect x="440.15" y="852" width="11.05" height="99.5" fill="#000"/>
<rect x="442.75" y="854.6" width="5.85" height="96.9" fill="#fff"/>
<clipPath id="c12"><rect x="442.75" y="854.6" width="5.85" height="96.9"/></clipPath>
<path clip-path="url(#c12)" fill="#1e6cf0" stroke="#0a2a80" stroke-width="1.1" d="M442.75 829.43L448.6 823.58L448.6 827.18L442.75 833.02ZM442.75 847.93L448.6 842.08L448.6 845.68L442.75 851.52ZM442.75 866.43L448.6 860.58L448.6 864.18L442.75 870.02ZM442.75 884.93L448.6 879.08L448.6 882.68L442.75 888.52ZM442.75 903.43L448.6 897.58L448.6 901.18L442.75 907.02ZM442.75 921.93L448.6 916.08L448.6 919.68L442.75 925.52ZM442.75 940.43L448.6 934.58L448.6 938.18L442.75 944.02ZM442.75 958.93L448.6 953.08L448.6 956.68L442.75 962.52ZM442.75 977.43L448.6 971.58L448.6 975.18L442.75 981.02Z"/>
<rect x="462" y="912.5" width="10.45" height="39" fill="#000"/>
<rect x="464.3" y="914.8" width="5.85" height="36.7" fill="#f590ee"/>
<rect x="470.15" y="920.5" width="9.35" height="31" fill="#000"/>
<rect x="472.75" y="923.1" width="4.15" height="28.4" fill="#fff"/>
<clipPath id="c13"><rect x="472.75" y="923.1" width="4.15" height="28.4"/></clipPath>
<path clip-path="url(#c13)" fill="#f590ee" d="M472.75 898.27L476.9 894.12L476.9 897.72L472.75 901.87ZM472.75 916.77L476.9 912.62L476.9 916.22L472.75 920.37ZM472.75 935.27L476.9 931.12L476.9 934.72L472.75 938.87ZM472.75 953.77L476.9 949.62L476.9 953.22L472.75 957.37ZM472.75 972.27L476.9 968.12L476.9 971.72L472.75 975.87ZM472.75 990.77L476.9 986.62L476.9 990.22L472.75 994.37Z"/>
<text transform="translate(77.13 1009.62) rotate(-90) scale(0.9846 1)" font-size="18.66" fill="#e3143f" stroke="#e3143f" stroke-width="0.45" font-weight="bold">SGW</text>
<text transform="translate(102.1 1025.37) rotate(-90) scale(0.9208 1)" font-size="19.85" fill="#e3143f" stroke="#e3143f" stroke-width="0.45" font-weight="bold">HSGW</text>
<text transform="translate(127.09 988.39) rotate(-90) scale(0.8670 1)" font-size="20.60" fill="#e3143f" stroke="#e3143f" stroke-width="0.45" font-weight="bold">SG</text>
<text transform="translate(159.59 1004.05) rotate(-90) scale(0.8491 1)" font-size="20.60" fill="#e3143f" stroke="#e3143f" stroke-width="0.45" font-weight="bold">HSG</text>
<text transform="translate(188.31 1024.07) rotate(-90) scale(0.9598 1)" font-size="19.25" fill="#e3143f" stroke="#e3143f" stroke-width="0.45" font-weight="bold">TSGW</text>
<text transform="translate(219.59 1018.95) rotate(-90) scale(0.9217 1)" font-size="20.60" fill="#e3143f" stroke="#e3143f" stroke-width="0.45" font-weight="bold">SIGW</text>
<text transform="translate(249.1 1012.86) rotate(-90) scale(0.8996 1)" font-size="19.85" fill="#128e1c" stroke="#128e1c" stroke-width="0.45" font-weight="bold">KGW</text>
<text transform="translate(279.1 1029.87) rotate(-90) scale(0.9281 1)" font-size="19.85" fill="#128e1c" stroke="#128e1c" stroke-width="0.45" font-weight="bold">HKGW</text>
<text transform="translate(305.79 1009.06) rotate(-90) scale(0.8799 1)" font-size="20.45" fill="#128e1c" stroke="#128e1c" stroke-width="0.45" font-weight="bold">HKG</text>
<text transform="translate(334.1 1026.56) rotate(-90) scale(0.9080 1)" font-size="19.85" fill="#128e1c" stroke="#128e1c" stroke-width="0.45" font-weight="bold">TKGW</text>
<text transform="translate(355.79 1044.06) rotate(-90) scale(0.8793 1)" font-size="20.45" fill="#128e1c" stroke="#128e1c" stroke-width="0.45" font-weight="bold">HTKGW</text>
<text transform="translate(387.09 1048.05) rotate(-90) scale(0.8862 1)" font-size="20.60" fill="#128e1c" stroke="#128e1c" stroke-width="0.45" font-weight="bold">I8HKGW</text>
<text transform="translate(423.29 1027.87) rotate(-90) scale(0.9014 1)" font-size="20.45" fill="#000000" stroke="#000000" stroke-width="0.45" font-weight="bold">HZGW</text>
<text transform="translate(453.29 1032.87) rotate(-90) scale(0.8946 1)" font-size="20.45" fill="#1a3fd8" stroke="#1a3fd8" stroke-width="0.45" font-weight="bold">H2BGW</text>
<text transform="translate(482.09 1025.87) rotate(-90) scale(0.8453 1)" font-size="20.60" fill="#f050e6" stroke="#f050e6" stroke-width="0.45" font-weight="bold">CMVG</text>
<rect x="90" y="715" width="25.6" height="21.2" fill="#000"/>
<rect x="92.2" y="717.2" width="21.2" height="16.8" fill="#28e628"/>
<rect x="90" y="745.2" width="25.6" height="22.1" fill="#000"/>
<rect x="92.2" y="747.4" width="21.2" height="17.7" fill="#fff"/>
<clipPath id="c14"><rect x="92.2" y="747.4" width="21.2" height="17.7"/></clipPath>
<path clip-path="url(#c14)" fill="#28e628" stroke="#000" stroke-width="1.1" d="M92.2 720.9L113.4 699.7L113.4 705.5L92.2 726.7ZM92.2 740.4L113.4 719.2L113.4 725L92.2 746.2ZM92.2 759.9L113.4 738.7L113.4 744.5L92.2 765.7ZM92.2 779.4L113.4 758.2L113.4 764L92.2 785.2ZM92.2 798.9L113.4 777.7L113.4 783.5L92.2 804.7ZM92.2 818.4L113.4 797.2L113.4 803L92.2 824.2Z"/>
<text transform="translate(122.4 732.4) scale(0.925 1)" font-size="15" font-weight="bold" stroke="#000" stroke-width="0.35">Without induction</text>
<text transform="translate(122.4 766.7) scale(0.933 1)" font-size="15" font-weight="bold" stroke="#000" stroke-width="0.35">With HMBA</text>
</g>
</svg>
</body></html>
